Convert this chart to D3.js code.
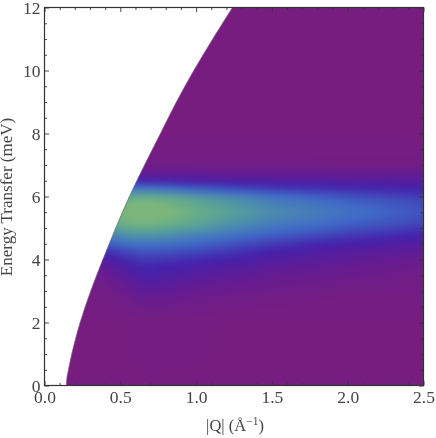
<!DOCTYPE html>
<html>
<head>
<meta charset="utf-8">
<script src="https://cdn.jsdelivr.net/npm/d3@7"></script>
<style>
  html, body { margin: 0; padding: 0; background: #fff; }
  #chart { position: relative; width: 436px; height: 438px; overflow: hidden; filter: blur(0.4px); }
  #chart canvas, #chart svg { position: absolute; left: 0; top: 0; }
  text { font-family: "Liberation Serif", serif; fill: #444; }
</style>
</head>
<body>
<div id="chart"></div>
<script>
// Q grid (1/A) and energy grid (meV) of the intensity map
const qValues = [0.35, 0.5, 0.6, 0.7, 0.85, 1.0, 1.25, 1.5, 2.0, 2.5];
const energyValues = [0, 2, 2.8, 3.4, 3.9, 4.3, 4.7, 5.1, 5.5, 5.9, 6.2, 6.45, 6.7, 7, 8, 12];

// one row of intensity per energy
const row00 = [0, 0, 0, 0, 0, 0, 0, 0, 0, 0];
const row20 = [0, 0, 0.01, 0.02, 0.01, 0.01, 0, 0, 0, 0];
const row28 = [0.02, 0.05, 0.09, 0.11, 0.09, 0.07, 0.05, 0.04, 0.02, 0.02];
const row34 = [0.05, 0.13, 0.22, 0.26, 0.22, 0.18, 0.14, 0.1, 0.07, 0.04];
const row39 = [0.16, 0.27, 0.33, 0.34, 0.32, 0.3, 0.26, 0.2, 0.13, 0.08];
const row43 = [0.34, 0.4, 0.44, 0.45, 0.44, 0.42, 0.37, 0.31, 0.22, 0.15];
const row47 = [0.54, 0.62, 0.65, 0.65, 0.62, 0.57, 0.5, 0.44, 0.35, 0.28];
const row51 = [0.74, 0.88, 0.93, 0.93, 0.87, 0.8, 0.68, 0.58, 0.47, 0.39];
const row55 = [0.82, 1, 1.06, 1.06, 1, 0.9, 0.78, 0.67, 0.54, 0.44];
const row59 = [0.74, 0.9, 0.95, 0.95, 0.88, 0.8, 0.69, 0.58, 0.47, 0.4];
const row62 = [0.48, 0.58, 0.62, 0.62, 0.58, 0.52, 0.46, 0.41, 0.35, 0.31];
const row64 = [0.28, 0.32, 0.34, 0.34, 0.32, 0.3, 0.28, 0.26, 0.24, 0.23];
const row67 = [0.14, 0.15, 0.15, 0.15, 0.15, 0.14, 0.13, 0.13, 0.12, 0.12];
const row70 = [0.04, 0.04, 0.04, 0.04, 0.04, 0.04, 0.04, 0.04, 0.03, 0.03];
const row80 = [0, 0, 0, 0, 0, 0, 0, 0, 0, 0];
const row120 = [0, 0, 0, 0, 0, 0, 0, 0, 0, 0];
const intensity = [row00, row20, row28, row34, row39, row43, row47, row51, row55, row59, row62, row64, row67, row70, row80, row120];

// kinematic limit: lowest measured Q at each energy
const edgeEnergy = [0, 0.25, 0.5, 1, 2, 3, 4, 5, 6, 7, 8, 9, 10, 11, 12];
const edgeQ = [0.145, 0.148, 0.158, 0.18, 0.235, 0.305, 0.385, 0.47, 0.56, 0.66, 0.765, 0.87, 0.985, 1.11, 1.24];

const colorStops = [0, 0.15, 0.3, 0.5, 0.7, 0.85, 1];
const colorValues = ["#771d80", "#601c96", "#4520aa", "#3f6ac8", "#4f93a8", "#62aa8c", "#7db67a"];

const width = 436, height = 438;
const margin = {top: 7.5, right: 12.5, bottom: 52.5, left: 44.5};

let x = d3.scaleLinear().domain([0, 2.5]).range([margin.left, width - margin.right]);
let y = d3.scaleLinear().domain([0, 12]).range([height - margin.bottom, margin.top]);
let color = d3.scaleLinear().domain(colorStops).range(colorValues).clamp(true);

let chart = d3.select("#chart");
let canvas = chart.append("canvas").attr("width", width).attr("height", height).node();
let ctx = canvas.getContext("2d");

// bilinear lookup in the intensity table, for painting the map smoothly
function lookup(q, e) {
  let qi = Math.min(Math.max(d3.bisectRight(qValues, q) - 1, 0), qValues.length - 2);
  let ei = Math.min(Math.max(d3.bisectRight(energyValues, e) - 1, 0), energyValues.length - 2);
  let tq = Math.min(Math.max((q - qValues[qi]) / (qValues[qi + 1] - qValues[qi]), 0), 1);
  let te = Math.min(Math.max((e - energyValues[ei]) / (energyValues[ei + 1] - energyValues[ei]), 0), 1);
  let low = intensity[ei][qi] * (1 - tq) + intensity[ei][qi + 1] * tq;
  let high = intensity[ei + 1][qi] * (1 - tq) + intensity[ei + 1][qi + 1] * tq;
  return low * (1 - te) + high * te;
}

let edgePoints = edgeEnergy.map((e, i) => [edgeQ[i], e]);
let edgeLine = d3.line().x(d => x(d[0])).y(d => y(d[1])).curve(d3.curveCatmullRom);

// paint the whole map on a spare canvas, larger than the frame so the blur has no edge
let spare = document.createElement("canvas");
spare.width = width;
spare.height = height;
let sctx = spare.getContext("2d");
for (let py = 0; py < height; py++) {
  for (let px = 0; px < width; px++) {
    sctx.fillStyle = color(lookup(x.invert(px + 0.5), y.invert(py + 0.5)));
    sctx.fillRect(px, py, 1, 1);
  }
}

// clip to the area right of the kinematic limit
ctx.save();
ctx.beginPath();
edgeLine.context(ctx)(edgePoints);
ctx.lineTo(x(2.5), y(12));
ctx.lineTo(x(2.5), y(0));
ctx.closePath();
ctx.clip();
ctx.filter = "blur(3px)";
ctx.drawImage(spare, 0, 0);
ctx.restore();

let svg = chart.append("svg").attr("width", width).attr("height", height);

svg.append("path")
  .attr("d", edgeLine.context(null)(edgePoints))
  .attr("fill", "none")
  .attr("stroke", "#666")
  .attr("stroke-width", 0.7);

svg.append("rect")
  .attr("x", x(0))
  .attr("y", y(12))
  .attr("width", x(2.5) - x(0))
  .attr("height", y(0) - y(12))
  .attr("fill", "none")
  .attr("stroke", "#333")
  .attr("stroke-width", 1.2);

const xMajor = [0, 0.5, 1, 1.5, 2, 2.5];
const yMajor = [0, 2, 4, 6, 8, 10, 12];
const xMinor = d3.range(0, 25).map(d => d / 10).filter(d => !xMajor.includes(d));
const yMinor = d3.range(0, 24).map(d => d / 2).filter(d => !yMajor.includes(d));

function drawAxis(gen, tx, ty, values, inner, labelled, fmt) {
  let g = svg.append("g")
    .attr("transform", "translate(" + tx + "," + ty + ")")
    .call(gen.tickValues(values).tickSize(inner).tickPadding(labelled ? 8 : 0).tickFormat(labelled ? fmt : ""));
  g.select(".domain").remove();
  g.selectAll("line").attr("stroke", "#333").attr("stroke-width", 0.9);
  g.selectAll("text").style("font-family", '"Liberation Serif", serif').style("font-size", "17.5px").attr("fill", "#444");
  return g;
}

let xf = d3.format(".1f"), yf = d3.format("d");
// d3 axes draw ticks outward, so negative sizes turn them inward
let xb = drawAxis(d3.axisBottom(x), 0, y(0), xMajor, -4.5, true, xf);
xb.selectAll("text").attr("y", 5);
drawAxis(d3.axisBottom(x), 0, y(0), xMinor, -2.5, false);
drawAxis(d3.axisTop(x), 0, y(12), xMajor, -4.5, false);
drawAxis(d3.axisTop(x), 0, y(12), xMinor, -2.5, false);
let yl = drawAxis(d3.axisLeft(y), x(0), 0, yMajor, -4.5, true, yf);
yl.selectAll("text").attr("x", -4);
drawAxis(d3.axisLeft(y), x(0), 0, yMinor, -2.5, false);
drawAxis(d3.axisRight(y), x(2.5), 0, yMajor, -4.5, false);
drawAxis(d3.axisRight(y), x(2.5), 0, yMinor, -2.5, false);

let xTitle = svg.append("text")
  .attr("x", 235)
  .attr("y", 431)
  .attr("text-anchor", "middle")
  .style("font-size", "16.5px");
xTitle.append("tspan").text("|Q| (Å");
xTitle.append("tspan").attr("dy", -6).style("font-size", "11.5px").text("−1");
xTitle.append("tspan").attr("dy", 6).text(")");

svg.append("text")
  .attr("transform", "translate(11.5,197) rotate(-90)")
  .attr("text-anchor", "middle")
  .style("font-size", "17px")
  .text("Energy Transfer (meV)");
</script>
</body>
</html>
